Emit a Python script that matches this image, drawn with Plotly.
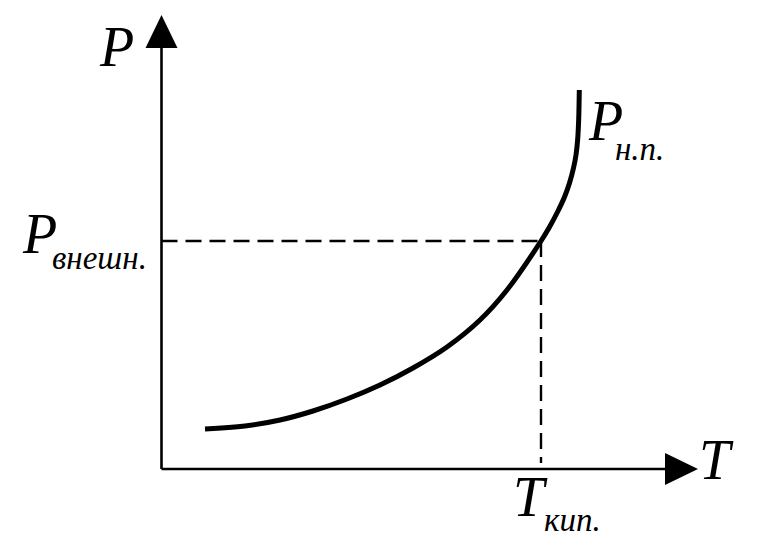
import plotly.graph_objects as go

# Saturated vapour pressure curve (arbitrary units, origin at axes crossing)
T_curve = [0.435, 0.835, 1.185, 1.515, 1.855, 2.185, 2.515, 2.855, 3.185, 3.455, 3.795,
           3.88, 3.96, 4.03, 4.08, 4.12, 4.145, 4.162, 4.172, 4.178]
P_curve = [0.40, 0.43, 0.49, 0.58, 0.70, 0.84, 1.01, 1.22, 1.49, 1.79, 2.28,
           2.42, 2.57, 2.72, 2.86, 3.01, 3.14, 3.30, 3.50, 3.79]

# Marked point: external pressure and boiling temperature
P_ext = 2.28
T_boil = 3.795

# Axes extents
T_axis_end = 5.035
P_axis_end = 4.21
arrow_len = 0.33
arrow_half = 0.16

FONT = "Liberation Serif, Times New Roman, serif"

fig = go.Figure()

# axes lines
fig.add_trace(go.Scatter(x=[0, T_axis_end], y=[0, 0], mode="lines",
                         line=dict(color="black", width=2.6), hoverinfo="skip"))
fig.add_trace(go.Scatter(x=[0, 0], y=[0, P_axis_end], mode="lines",
                         line=dict(color="black", width=2.6), hoverinfo="skip"))
# arrow heads
fig.add_trace(go.Scatter(x=[T_axis_end, T_axis_end + arrow_len, T_axis_end, T_axis_end],
                         y=[arrow_half, 0, -arrow_half, arrow_half],
                         mode="lines", fill="toself", fillcolor="black",
                         line=dict(color="black", width=0), hoverinfo="skip"))
fig.add_trace(go.Scatter(x=[-arrow_half, 0, arrow_half, -arrow_half],
                         y=[P_axis_end, P_axis_end + arrow_len, P_axis_end, P_axis_end],
                         mode="lines", fill="toself", fillcolor="black",
                         line=dict(color="black", width=0), hoverinfo="skip"))

# dashed guide lines
fig.add_trace(go.Scatter(x=[0, T_boil], y=[P_ext, P_ext], mode="lines",
                         line=dict(color="black", width=2.4, dash="16px,8px"), hoverinfo="skip"))
fig.add_trace(go.Scatter(x=[T_boil, T_boil], y=[P_ext, 0.06], mode="lines",
                         line=dict(color="black", width=2.4, dash="16px,8px"), hoverinfo="skip"))

# curve
fig.add_trace(go.Scatter(x=T_curve, y=P_curve, mode="lines",
                         line=dict(color="black", width=5, shape="spline", smoothing=1.0),
                         hoverinfo="skip"))

def label(x, y, text, size):
    fig.add_annotation(x=x, y=y, xref="x", yref="y", text="<i>" + text + "</i>",
                       showarrow=False, xanchor="center", yanchor="middle",
                       font=dict(family=FONT, size=size, color="black"))

BIG = 56
SUB = 33
label(-0.455, 4.22, "P", BIG)
label(5.545, 0.09, "T", BIG)
label(-1.22, 2.35, "P", BIG)
label(-0.62, 2.112, "внешн.", SUB)
label(4.435, 3.48, "P", BIG)
label(4.78, 3.20, "н.п.", SUB)
label(3.685, -0.28, "T", BIG)
label(4.11, -0.513, "кип.", SUB)

fig.update_layout(
    width=778, height=559,
    margin=dict(l=0, r=0, t=0, b=0),
    paper_bgcolor="white", plot_bgcolor="white",
    showlegend=False,
    xaxis=dict(range=[-1.615, 6.165], visible=False, fixedrange=True),
    yaxis=dict(range=[-0.90, 4.69], visible=False, fixedrange=True),
)

fig.write_html("out.html")
